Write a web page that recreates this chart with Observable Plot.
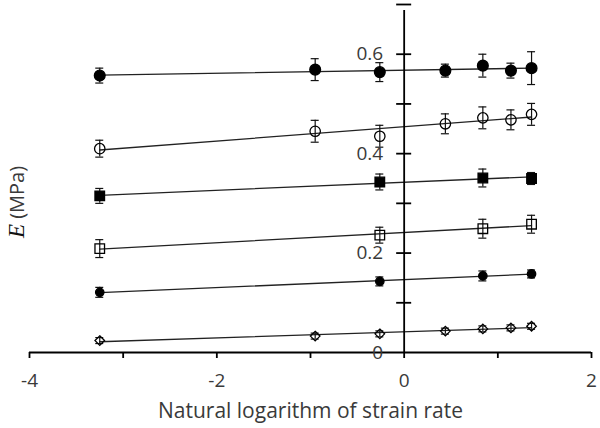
<!DOCTYPE html>
<html><head><meta charset="utf-8">
<script src="https://cdn.jsdelivr.net/npm/d3@7"></script>
<script src="https://cdn.jsdelivr.net/npm/@observablehq/plot@0.6"></script>
<style>body{margin:0;background:#fff}</style>
</head><body><div id="chart"></div>
<script>
// Natural logarithm of strain rate
const lnRateAll = [-3.25, -0.95, -0.26, 0.44, 0.84, 1.14, 1.36];
const lnRateSub = [-3.25, -0.26, 0.84, 1.36];

// E (MPa) series, top to bottom
const filledCircleE   = [0.557, 0.569, 0.564, 0.567, 0.577, 0.567, 0.572];
const filledCircleErr = [0.015, 0.022, 0.019, 0.013, 0.023, 0.015, 0.033];
const openCircleE     = [0.410, 0.445, 0.435, 0.460, 0.472, 0.468, 0.479];
const openCircleErr   = [0.017, 0.022, 0.022, 0.020, 0.022, 0.020, 0.022];
const filledSquareE   = [0.315, 0.343, 0.351, 0.350];
const filledSquareErr = [0.015, 0.016, 0.018, 0.012];
const openSquareE     = [0.209, 0.236, 0.249, 0.258];
const openSquareErr   = [0.018, 0.016, 0.019, 0.018];
const smallDotE       = [0.121, 0.143, 0.154, 0.158];
const smallDotErr     = [0.010, 0.009, 0.010, 0.008];
const openDiamondE    = [0.024, 0.033, 0.0375, 0.043, 0.0475, 0.0495, 0.0527];
const openDiamondErr  = [0.006, 0.006, 0.006, 0.006, 0.006, 0.006, 0.006];

const xTicks = [-4, -3, -2, -1, 0, 1, 2];
const xLabels = [-4, -2, 0, 2];
const yTicks = [0.1, 0.2, 0.3, 0.4, 0.5, 0.6, 0.7];
const yLabels = [0, 0.2, 0.4, 0.6];
const xTitle = "Natural logarithm of strain rate";
const yTitleSymbol = "E";
const yTitleUnit = " (MPa)";

const series = [
  {name: "filledCircle", x: lnRateAll, y: filledCircleE, err: filledCircleErr, symbol: "circle", fill: "#000", r: 5.4},
  {name: "openCircle", x: lnRateAll, y: openCircleE, err: openCircleErr, symbol: "circle", fill: "none", r: 5.2},
  {name: "filledSquare", x: lnRateSub, y: filledSquareE, err: filledSquareErr, symbol: "square", fill: "#000", r: 5.4},
  {name: "openSquare", x: lnRateSub, y: openSquareE, err: openSquareErr, symbol: "square", fill: "none", r: 5.4},
  {name: "smallDot", x: lnRateSub, y: smallDotE, err: smallDotErr, symbol: "circle", fill: "#000", r: 4.2},
  {name: "openDiamond", x: lnRateAll, y: openDiamondE, err: openDiamondErr, symbol: "diamond2", fill: "none", r: 4.3}
];
const rows = series.flatMap(s => s.x.map((x, i) => ({series: s.name, x, y: s.y[i], err: s.err[i]})));

const labelColor = "#3a3a3a";
const sans = "'Open Sans', Lato, sans-serif";

const chart = Plot.plot({
  width: 600,
  height: 428,
  marginTop: 4,
  marginBottom: 76,
  marginLeft: 29,
  marginRight: 9,
  x: {domain: [-4, 2], axis: null},
  y: {domain: [0, 0.7], axis: null},
  style: {fontFamily: sans, background: "white"},
  marks: [
    // regression lines
    Plot.linearRegressionY(rows, {x: "x", y: "y", z: "series", ci: 0, stroke: "#222", strokeWidth: 1.3}),
    // error bars
    Plot.ruleX(rows, {x: "x", y1: d => d.y - d.err, y2: d => d.y + d.err, stroke: "#111", strokeWidth: 1.2}),
    Plot.ruleY(rows, {y: d => d.y - d.err, x1: "x", x2: "x", insetLeft: -4, insetRight: -4, stroke: "#111", strokeWidth: 1.2}),
    Plot.ruleY(rows, {y: d => d.y + d.err, x1: "x", x2: "x", insetLeft: -4, insetRight: -4, stroke: "#111", strokeWidth: 1.2}),
    // markers
    ...series.map(s => Plot.dot(rows.filter(d => d.series === s.name), {
      x: "x", y: "y", symbol: s.symbol, r: s.r, fill: s.fill, stroke: "#000", strokeWidth: 1.3
    })),
    // x axis
    Plot.ruleY([0], {stroke: "#000", strokeWidth: 1.8}),
    Plot.ruleX(xTicks, {x: d => d, y1: 0, y2: 0, insetBottom: -6, stroke: "#000", strokeWidth: 1.8}),
    Plot.text(xLabels, {x: d => d, y: 0, text: d => String(d), dy: 28, lineAnchor: "middle", fontSize: 19, fill: labelColor}),
    // y axis at x = 0
    Plot.ruleX([0], {x: d => d, y1: 0, y2: 0.7, insetBottom: -6, stroke: "#000", strokeWidth: 1.8}),
    Plot.ruleY(yTicks, {y: d => d, x1: 0, x2: 0, insetLeft: -7.5, insetRight: -7.5, stroke: "#000", strokeWidth: 1.8}),
    Plot.text(yLabels, {x: 0, y: d => d, text: d => String(d), dx: -21, textAnchor: "end", lineAnchor: "middle", fontSize: 19, fill: labelColor}),
    // x title
    Plot.text([xTitle], {frameAnchor: "bottom", text: d => d, dy: 59, lineAnchor: "middle", fontSize: 21, fill: labelColor})
  ]
});

// y title with italic E, rotated
const svg = d3.select(chart);
const yt = svg.append("text")
  .attr("transform", "translate(17,202) rotate(-90)")
  .attr("text-anchor", "middle")
  .attr("dy", "0.35em")
  .attr("fill", labelColor)
  .attr("font-family", sans)
  .attr("font-size", 20);
yt.append("tspan").text(yTitleSymbol)
  .attr("font-family", "'Liberation Serif', 'DejaVu Serif', serif")
  .attr("font-style", "italic")
  .attr("font-size", 23)
  .attr("fill", "#111");
yt.append("tspan").text(yTitleUnit);

document.getElementById("chart").append(chart);
</script>
</body></html>
